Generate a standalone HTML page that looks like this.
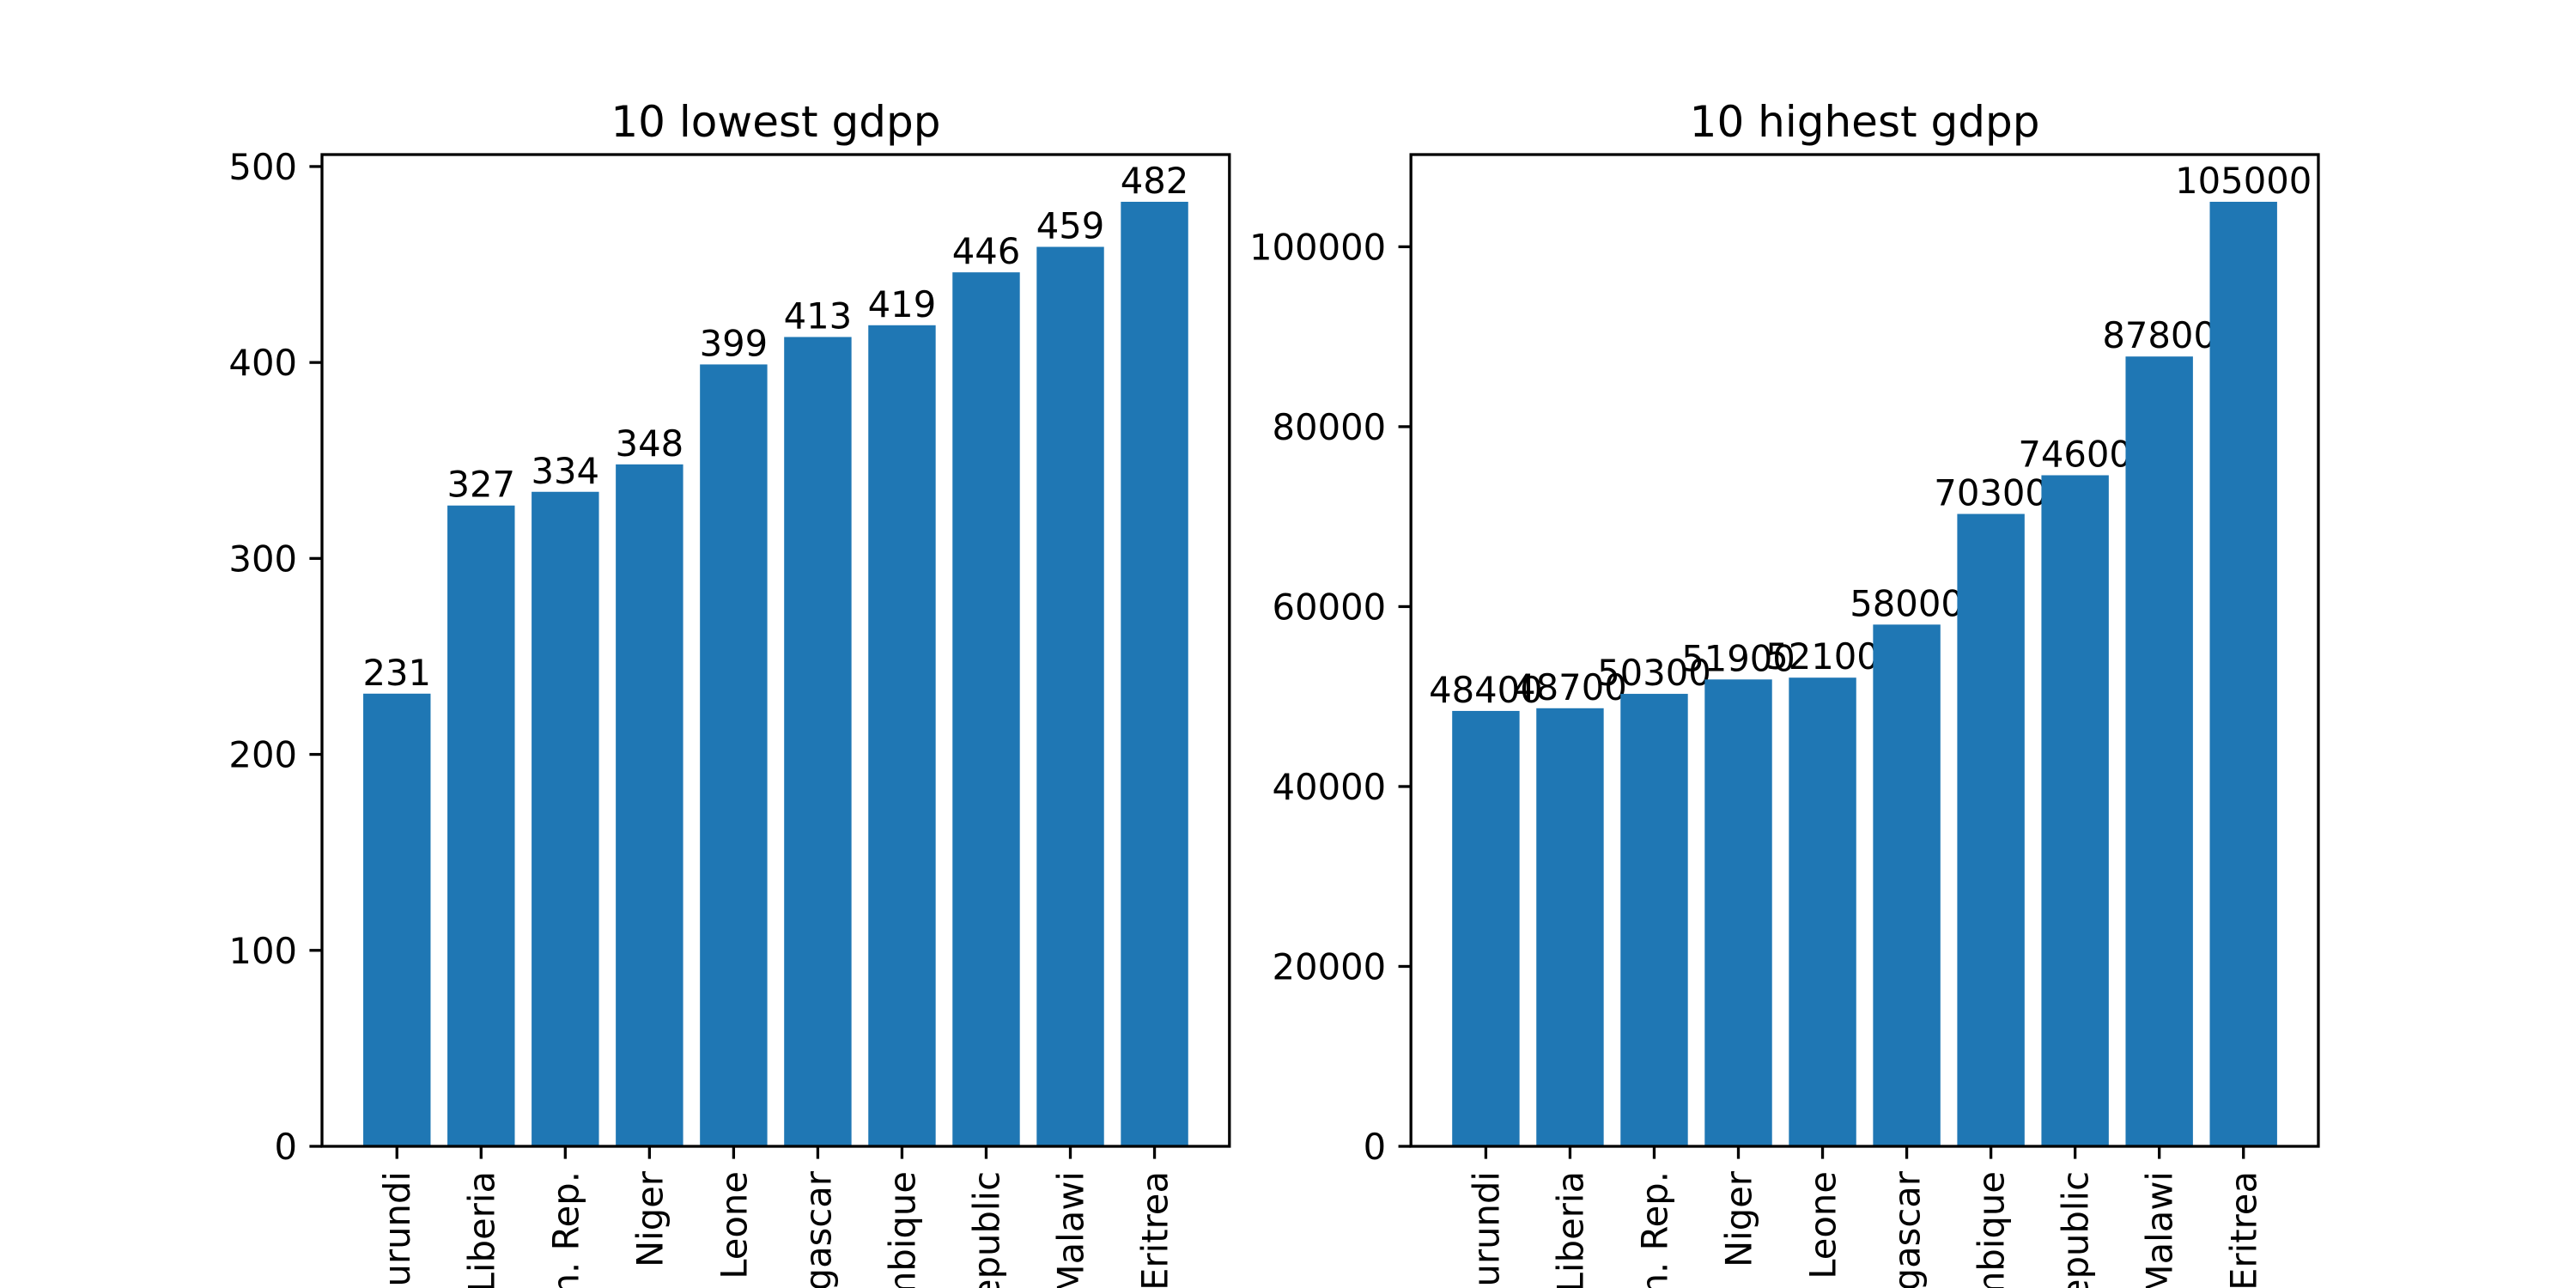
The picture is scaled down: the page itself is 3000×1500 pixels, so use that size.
<!DOCTYPE html>
<html><head><meta charset="utf-8"><style>html,body{margin:0;padding:0;background:#fff;width:3000px;height:1500px;overflow:hidden}svg{display:block;overflow:hidden}</style></head>
<body>
<svg id="chart" width="3000" height="1500" xmlns="http://www.w3.org/2000/svg" font-family="'DejaVu Sans','Liberation Sans',sans-serif"></svg>
<script>
const categories = ["Burundi","Liberia","Congo, Dem. Rep.","Niger","Sierra Leone","Madagascar","Mozambique","Central African Republic","Malawi","Eritrea"];
const lowValues = [231,327,334,348,399,413,419,446,459,482];
const highValues = [48400,48700,50300,51900,52100,58000,70300,74600,87800,105000];
const lowTicks = [0,100,200,300,400,500];
const highTicks = [0,20000,40000,60000,80000,100000];
const titles = ["10 lowest gdpp","10 highest gdpp"];

const svg = document.getElementById('chart');
const NS = 'http://www.w3.org/2000/svg';
function mk(tag, attrs, parent){const e=document.createElementNS(NS,tag);for(const k in attrs)e.setAttribute(k,attrs[k]);(parent||svg).appendChild(e);return e;}

const topY=180, bottomY=1335, W=1056.8;
const lefts=[375, 375+W*1.2];
const FS=41.7;

function drawPanel(idx, values, ticks){
  const L=lefts[idx];
  const g=mk('g',{});
  
  
  const ymax=Math.max(...values)*1.05;
  const y=v=>bottomY-(v/ymax)*(bottomY-topY);
  const x0=-0.89, x1=categories.length-1+0.89;
  const x=v=>L+(v-x0)/(x1-x0)*W;
  values.forEach((v,i)=>{
    const r=mk('rect',{x:x(i-0.4),y:y(v),width:x(i+0.4)-x(i-0.4),height:bottomY-y(v),fill:'#1f77b4'},g);
    
    
    const t=mk('text',{x:x(i),y:y(v)-10,'text-anchor':'middle','font-size':FS,fill:'#000'},g);
    t.textContent=String(v);
    
    
  });
  ticks.forEach(tv=>{
    mk('line',{x1:L-14.6,x2:L,y1:y(tv),y2:y(tv),stroke:'#000','stroke-width':3.3},g);
    const t=mk('text',{x:L-29,y:y(tv)+15,'text-anchor':'end','font-size':FS},g);
    t.textContent=String(tv);
    
    
  });
  categories.forEach((c,i)=>{
    mk('line',{x1:x(i),x2:x(i),y1:bottomY,y2:bottomY+14.6,stroke:'#000','stroke-width':3.3},g);
    const t=mk('text',{transform:`translate(${x(i)+15},${bottomY+29}) rotate(-90)`,'text-anchor':'end','font-size':FS},g);
    t.textContent=c;
    
    
  });
  const f=mk('rect',{x:L,y:topY,width:W,height:bottomY-topY,fill:'none',stroke:'#000','stroke-width':3.3},g);
  
  
  const tt=mk('text',{x:L+W/2,y:topY-21,'text-anchor':'middle','font-size':50},g);
  tt.textContent=titles[idx];
  
  
}
drawPanel(0,lowValues,lowTicks);
drawPanel(1,highValues,highTicks);
</script>
</body></html>
